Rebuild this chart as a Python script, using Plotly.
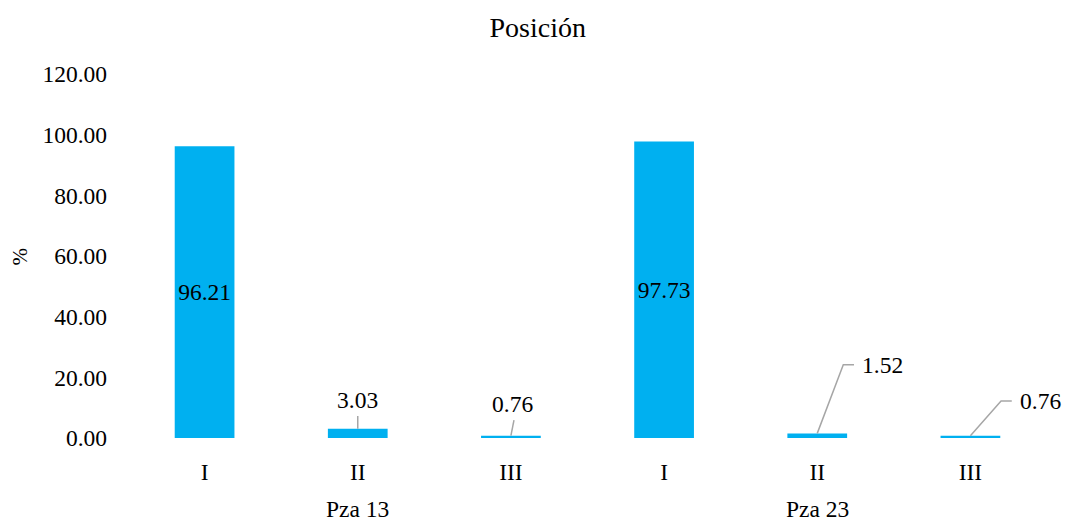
import plotly.graph_objects as go

# Data
groups = ["Pza 13", "Pza 23"]
positions = ["I", "II", "III"]
values = [96.21, 3.03, 0.76, 97.73, 1.52, 0.76]
y_ticks = [0, 20, 40, 60, 80, 100, 120]

BAR_COLOR = "#00B0F0"
LEADER_COLOR = "#A6A6A6"
FONT = "Liberation Serif"
TXT = 23.5

n = len(values)
idx = list(range(n))
tick_text = positions * len(groups)

# Labels drawn inside tall bars; short bars get a callout with a leader line.
inside = [v > 20 for v in values]
bar_text = [f"{v:.2f}" if ins else "" for v, ins in zip(values, inside)]

fig = go.Figure()
fig.add_trace(go.Bar(
    x=idx, y=values, width=0.39,
    marker=dict(color=BAR_COLOR, line=dict(width=0)),
    text=bar_text, textposition="inside", insidetextanchor="middle",
    constraintext="none",
    textfont=dict(family=FONT, size=TXT, color="black"),
    hoverinfo="skip",
))

# Callout geometry for short bars, as offsets from each bar's top:
# (elbow dx, elbow dy, tail dx, text x offset, text y offset, anchor)
callouts = {
    1: (0.0, 4.2, 0.0, 0.0, 9.5, "center"),
    2: (0.02, 5.1, 0.02, 0.01, 10.5, "center"),
    4: (0.17, 22.6, 0.24, 0.28, 22.6, "left"),
    5: (0.20, 11.4, 0.27, 0.31, 11.4, "left"),
}

shapes = []
annotations = []
for i, (edx, edy, tdx, tx, ty, anchor) in callouts.items():
    v = values[i]
    x0, y0 = i, v
    x1, y1 = i + edx, v + edy
    x2 = i + tdx
    path = f"M {x0},{y0} L {x1},{y1}"
    if x2 != x1:
        path += f" L {x2},{y1}"
    shapes.append(dict(type="path", xref="x", yref="y", path=path,
                       line=dict(color=LEADER_COLOR, width=1.5)))
    annotations.append(dict(
        x=i + tx, y=v + ty, xref="x", yref="y", text=f"{v:.2f}",
        showarrow=False, xanchor=anchor, yanchor="middle",
        font=dict(family=FONT, size=TXT, color="black"),
    ))

# Group labels under each set of positions
per = len(positions)
for g, name in enumerate(groups):
    annotations.append(dict(
        x=g * per + (per - 1) / 2, y=-0.195, xref="x", yref="paper",
        text=name, showarrow=False, xanchor="center", yanchor="middle",
        font=dict(family=FONT, size=TXT, color="black"),
    ))

# Y axis title
annotations.append(dict(
    x=-0.117, y=0.5, xref="paper", yref="paper", text="%",
    showarrow=False, textangle=-90, xanchor="center", yanchor="middle",
    font=dict(family=FONT, size=21, color="black"),
))

fig.update_layout(
    width=1067, height=522,
    margin=dict(l=128, r=20, t=74, b=84),
    paper_bgcolor="white", plot_bgcolor="white",
    font=dict(family=FONT, color="black"),
    title=dict(text="Posición", x=0.504, xanchor="center", y=0.947, yanchor="middle",
               font=dict(family=FONT, size=28, color="black")),
    showlegend=False,
    bargap=0.6,
    xaxis=dict(
        range=[-0.5, n - 0.5], tickmode="array", tickvals=idx, ticktext=tick_text,
        showgrid=False, zeroline=False, showline=False, ticks="",
        ticklabelstandoff=17,
        tickfont=dict(family=FONT, size=TXT, color="black"),
    ),
    yaxis=dict(
        range=[0, 120], tickmode="array", tickvals=y_ticks,
        ticktext=[f"{t:.2f}" for t in y_ticks],
        showgrid=False, zeroline=False, showline=False, ticks="",
        ticklabelstandoff=20,
        tickfont=dict(family=FONT, size=TXT, color="black"),
    ),
    shapes=shapes,
    annotations=annotations,
)

fig.write_html("out.html")
